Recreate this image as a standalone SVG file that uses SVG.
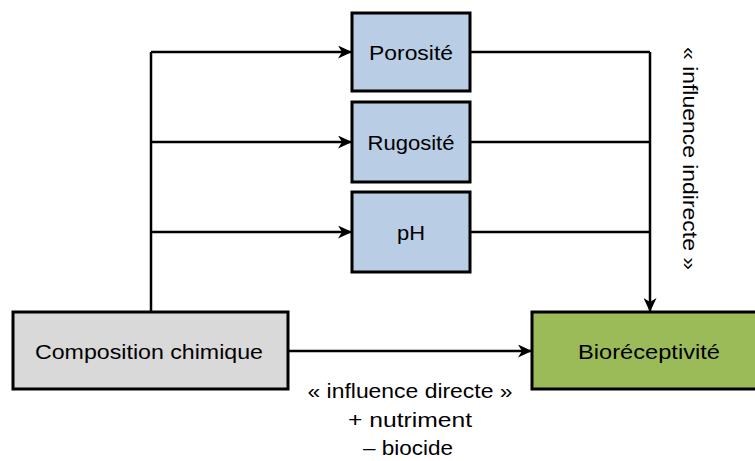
<svg xmlns="http://www.w3.org/2000/svg" width="755" height="461" viewBox="0 0 755 461">
<style>
.box{stroke:#000;stroke-width:3}
.lbl{font-family:"Liberation Sans",Arial,sans-serif;font-size:21px;fill:#000;text-anchor:middle;dominant-baseline:central}
.ann{font-family:"Liberation Sans",Arial,sans-serif;font-size:21px;fill:#000;text-anchor:middle}
.ln{stroke:#000;stroke-width:2.5;fill:none}
</style>
<defs>
<marker id="ah" viewBox="0 0 14 13" refX="13" refY="6.5" markerWidth="14" markerHeight="13" markerUnits="userSpaceOnUse" orient="auto">
<path d="M0,0 L14,6.5 L0,13 L4,6.5 Z" fill="#000"/>
</marker>
</defs>
<g id="connectors">
<path class="ln" d="M151,312 V52"/>
<path class="ln" d="M151,52 H351" marker-end="url(#ah)"/>
<path class="ln" d="M151,142 H351" marker-end="url(#ah)"/>
<path class="ln" d="M151,232 H351" marker-end="url(#ah)"/>
<path class="ln" d="M470,52 H650"/>
<path class="ln" d="M470,142 H650"/>
<path class="ln" d="M470,232 H650"/>
<path class="ln" d="M650,52 V311" marker-end="url(#ah)"/>
<path class="ln" d="M288,351 H531" marker-end="url(#ah)"/>
<text class="ann" transform="translate(683,158.5) rotate(90)" textLength="223" lengthAdjust="spacingAndGlyphs">« influence indirecte »</text>
<text class="ann" x="410" y="398" textLength="205" lengthAdjust="spacingAndGlyphs">« influence directe »</text>
<text class="ann" x="410" y="427" textLength="124" lengthAdjust="spacingAndGlyphs">+ nutriment</text>
<text class="ann" x="408" y="455" textLength="90" lengthAdjust="spacingAndGlyphs">– biocide</text>
</g>
<g id="porosite">
<rect class="box" x="352" y="13" width="118" height="78" fill="#b9cde5"/>
<text class="lbl" x="411" y="52" textLength="84" lengthAdjust="spacingAndGlyphs">Porosité</text>
</g>
<g id="rugosite">
<rect class="box" x="352" y="102" width="118" height="80" fill="#b9cde5"/>
<text class="lbl" x="411" y="142" textLength="87" lengthAdjust="spacingAndGlyphs">Rugosité</text>
</g>
<g id="ph">
<rect class="box" x="352" y="192" width="118" height="80" fill="#b9cde5"/>
<text class="lbl" x="411" y="232" textLength="28" lengthAdjust="spacingAndGlyphs">pH</text>
</g>
<g id="composition">
<rect class="box" x="13" y="312" width="275" height="77" fill="#d9d9d9"/>
<text class="lbl" x="149" y="351" textLength="228" lengthAdjust="spacingAndGlyphs">Composition chimique</text>
</g>
<g id="bioreceptivite">
<rect class="box" x="532" y="312" width="235" height="77" fill="#9bbb59"/>
<text class="lbl" x="649" y="351" textLength="142" lengthAdjust="spacingAndGlyphs">Bioréceptivité</text>
</g>
</svg>
